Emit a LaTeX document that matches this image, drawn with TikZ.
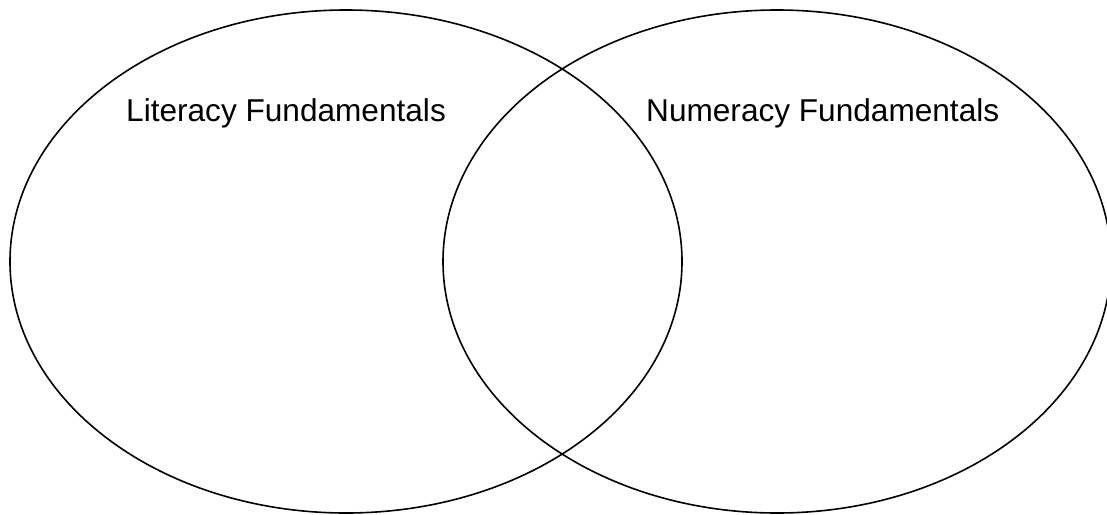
\documentclass[tikz,border=0pt]{standalone}
\usepackage{fontspec}
\setmainfont{Liberation Sans}
\begin{document}
\begin{tikzpicture}[x=1pt,y=-1pt,
  circ/.style={draw=black,line width=1.6pt},
  lbl/.style={anchor=base west,inner sep=0pt,font=\fontsize{31.6}{36}\selectfont}]
\useasboundingbox (0,0) rectangle (1107,514);
\draw[circ] (346,261.5) ellipse [x radius=336, y radius=251.5];
\draw[circ] (777,261.5) ellipse [x radius=334, y radius=251.5];
\node[lbl] (lit) at (126,121) {Literacy Fundamentals};
\node[lbl] (num) at (646,121) {Numeracy Fundamentals};
\end{tikzpicture}
\end{document}
